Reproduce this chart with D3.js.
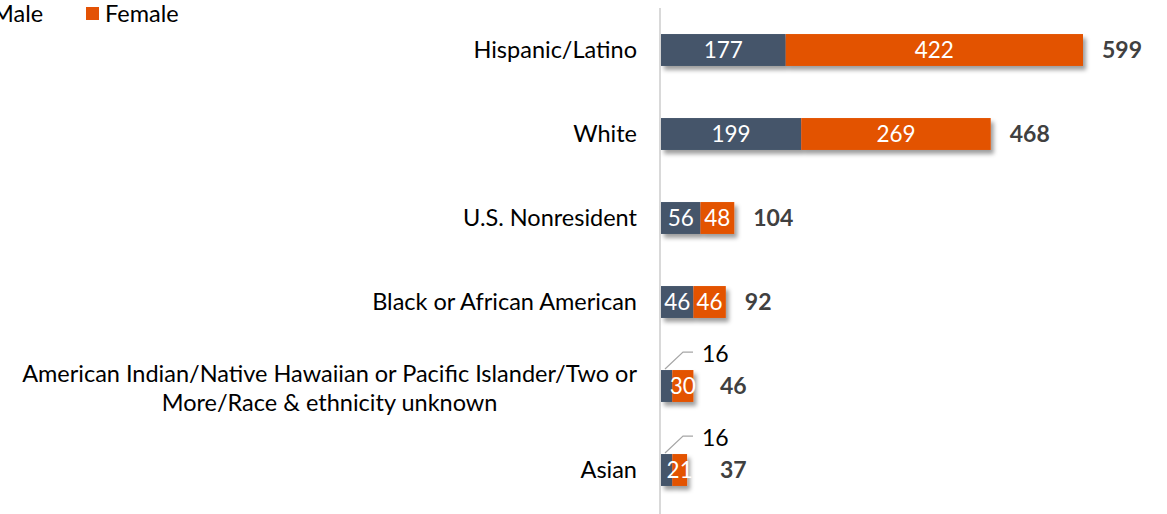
<!DOCTYPE html>
<html>
<head>
<meta charset="utf-8">
<script src="https://cdn.jsdelivr.net/npm/d3@7"></script>
<style>
  html, body { margin: 0; padding: 0; background: #fff; }
  svg { display: block; font-family: Lato, "Open Sans", sans-serif; }
</style>
</head>
<body>
<svg id="chart" width="1167" height="514"></svg>
<script>
// Enrollment by race/ethnicity and sex
const categories = [
  "Hispanic/Latino",
  "White",
  "U.S. Nonresident",
  "Black or African American",
  "American Indian/Native Hawaiian or Pacific Islander/Two or More/Race & ethnicity unknown",
  "Asian"
];
const categoryLines = [
  ["Hispanic/Latino"],
  ["White"],
  ["U.S. Nonresident"],
  ["Black or African American"],
  ["American Indian/Native Hawaiian or Pacific Islander/Two or", "More/Race & ethnicity unknown"],
  ["Asian"]
];
const male = [177, 199, 56, 46, 16, 16];
const female = [422, 269, 48, 46, 30, 21];
const seriesNames = ["Male", "Female"];
const colors = { Male: "#44546A", Female: "#E35205" };

const svg = d3.select("#chart");
const W = 1167, H = 514;
const axisX = 661;
const labelFont = 23.5, valueFont = 22.5, totalFont = 23;

const x = d3.scaleLinear().domain([0, 599]).range([axisX, 1083]);
const y = d3.scaleBand().domain(categories).range([8, 512]).paddingInner(0.62).paddingOuter(0.31);

// soft drop shadow behind each bar
const defs = svg.append("defs");
const f = defs.append("filter").attr("id", "shadow")
  .attr("x", "-20%").attr("y", "-30%").attr("width", "160%").attr("height", "190%");
f.append("feDropShadow").attr("dx", 3).attr("dy", 4).attr("stdDeviation", 2.2)
  .attr("flood-color", "#000").attr("flood-opacity", 0.38);

const rows = categories.map((c, i) => ({
  cat: c, lines: categoryLines[i], male: male[i], female: female[i], total: male[i] + female[i]
}));

// vertical category axis line
svg.append("line")
  .attr("x1", axisX - 1).attr("x2", axisX - 1)
  .attr("y1", 8).attr("y2", H)
  .attr("stroke", "#d9d9d9").attr("stroke-width", 2);

// stacked bars
const rowG = svg.selectAll("g.row").data(rows).enter().append("g").attr("class", "row");
const barsG = rowG.append("g").attr("filter", "url(#shadow)");
barsG.append("rect")
  .attr("x", d => x(0)).attr("y", d => y(d.cat))
  .attr("width", d => x(d.male) - x(0)).attr("height", y.bandwidth())
  .attr("fill", colors.Male);
barsG.append("rect")
  .attr("x", d => x(d.male)).attr("y", d => y(d.cat))
  .attr("width", d => x(d.total) - x(d.male)).attr("height", y.bandwidth())
  .attr("fill", colors.Female);

const mid = d => y(d.cat) + y.bandwidth() / 2;

// segment value labels
rowG.each(function(d) {
  const g = d3.select(this);
  const mw = x(d.male) - x(0);
  if (mw >= 24) {
    g.append("text").attr("x", (x(0) + x(d.male)) / 2).attr("y", mid(d))
      .attr("dy", "0.36em").attr("text-anchor", "middle")
      .attr("fill", "#fff").attr("font-size", valueFont).text(d.male);
  } else {
    // small segment: label placed above with a leader line
    const top = y(d.cat);
    const x0 = x(0) + 4;
    g.append("polyline")
      .attr("points", [[x0, top - 1], [x0 + 18, top - 18], [x0 + 28, top - 18]].map(p => p.join(",")).join(" "))
      .attr("fill", "none").attr("stroke", "#a6a6a6").attr("stroke-width", 1.2);
    g.append("text").attr("x", x0 + 37).attr("y", top - 16)
      .attr("dy", "0.36em").attr("fill", "#000").attr("font-size", 23).text(d.male);
  }
  g.append("text").attr("x", (x(d.male) + x(d.total)) / 2).attr("y", mid(d))
    .attr("dy", "0.36em").attr("text-anchor", "middle")
    .attr("fill", "#fff").attr("font-size", valueFont).text(d.female);

  // total label
  const tx = Math.max(x(d.total) + 19, 720);
  g.append("text").attr("x", tx).attr("y", mid(d))
    .attr("dy", "0.36em").attr("fill", "#404040").attr("font-size", totalFont)
    .attr("font-weight", "bold").text(d.total);
});

// category labels (multi-line labels are centred within a right-aligned block)
const labelRight = 637;
rowG.each(function(d) {
  const g = d3.select(this);
  const lh = 29;
  const n = d.lines.length;
  const t = g.append("text").attr("font-size", labelFont).attr("fill", "#000");
  if (n === 1) {
    t.attr("x", labelRight).attr("y", mid(d)).attr("dy", "0.36em")
      .attr("text-anchor", "end").text(d.lines[0]);
  } else {
    // measure widest line, centre all lines on it
    const tmp = g.append("text").attr("font-size", labelFont).text(d.lines[0]);
    const wMax = d3.max(d.lines, l => { tmp.text(l); return tmp.node().getComputedTextLength(); });
    tmp.remove();
    const cx = labelRight - wMax / 2;
    d.lines.forEach((l, k) => {
      t.append("tspan").attr("x", cx).attr("text-anchor", "middle")
        .attr("y", mid(d) + (k - (n - 1) / 2) * lh + 2).attr("dy", "0.36em").text(l);
    });
  }
});

// legend
const legend = svg.append("g");
const legendItems = [{ name: "Male", x: -27 }, { name: "Female", x: 86 }];
legendItems.forEach(it => {
  legend.append("rect").attr("x", it.x).attr("y", 7).attr("width", 13).attr("height", 13)
    .attr("fill", colors[it.name]);
  legend.append("text").attr("x", it.x + 19).attr("y", 14).attr("dy", "0.36em")
    .attr("font-size", labelFont).attr("fill", "#000").text(it.name);
});
</script>
</body>
</html>
